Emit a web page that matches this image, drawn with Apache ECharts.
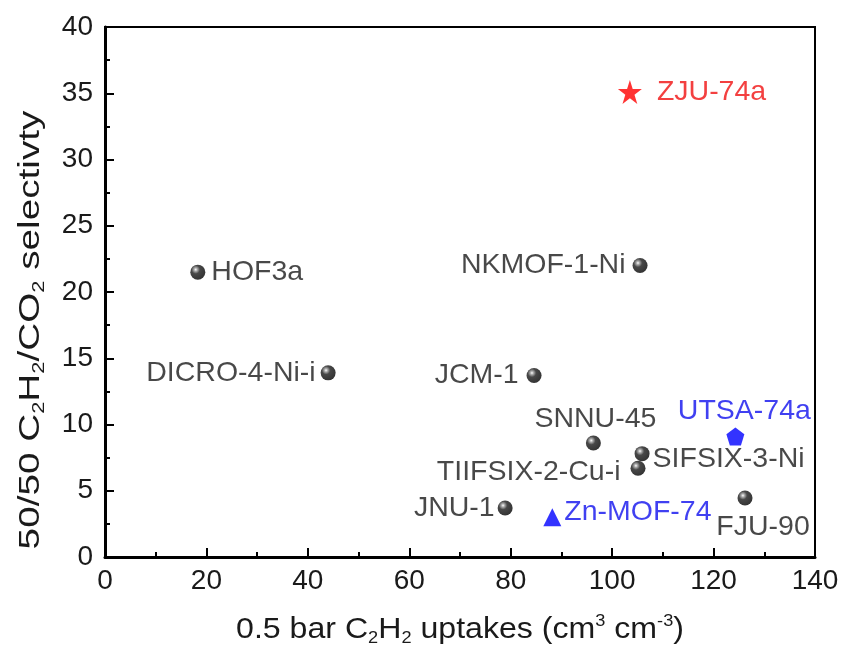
<!DOCTYPE html>
<html><head><meta charset="utf-8">
<script src="https://cdn.jsdelivr.net/npm/echarts@6/dist/echarts.min.js"></script>
<style>html,body{margin:0;padding:0;background:#fff}#c{width:842px;height:655px}</style>
</head><body><div id="c"></div>
<script>
// ---- data ----
const ballNames = ['HOF3a','DICRO-4-Ni-i','NKMOF-1-Ni','JCM-1','SNNU-45','SIFSIX-3-Ni','TIIFSIX-2-Cu-i','JNU-1','FJU-90'];
const ballX     = [18.3, 44.0, 105.5, 84.6, 96.3, 105.9, 105.1, 78.9, 126.2];
const ballY     = [21.5, 13.9, 22.0, 13.7, 8.6, 7.8, 6.7, 3.7, 4.45];
const starNames = ['ZJU-74a'];  const starX = [103.5]; const starY = [35.1];
const pentNames = ['UTSA-74a']; const pentX = [124.3]; const pentY = [9.1];
const triNames  = ['Zn-MOF-74'];const triX  = [88.2];  const triY  = [3.0];
const xTicks = [0,20,40,60,80,100,120,140];
const yTicks = [0,5,10,15,20,25,30,35,40];
const xTitle = '{n|0.5 bar C}{sb|2}{n|H}{sb|2}{n| uptakes (cm}{sp|3}{n| cm}{sp|-3}{n|)}';
const yTitle = '{n|50/50 C}{sb|2}{n|H}{sb|2}{n|/CO}{sb|2}{n| selectivty}';

// ---- label placement (style) ----
const labelPos = {
  'HOF3a':{position:'right',distance:6},
  'DICRO-4-Ni-i':{position:'left',distance:5},
  'NKMOF-1-Ni':{position:'left',distance:7},
  'JCM-1':{position:'left',distance:8},
  'SNNU-45':{position:'top',distance:2,offset:[2,0]},
  'SIFSIX-3-Ni':{position:'right',distance:3,offset:[0,5]},
  'TIIFSIX-2-Cu-i':{position:'left',distance:10,offset:[0,4]},
  'JNU-1':{position:'left',distance:3},
  'FJU-90':{position:'bottom',distance:7,offset:[18,0]},
  'ZJU-74a':{position:'right',distance:15},
  'UTSA-74a':{position:'top',distance:2,offset:[9,0]},
  'Zn-MOF-74':{position:'right',distance:3,offset:[0,-5]}
};
const FONT = '"Liberation Sans", Arial, sans-serif';
const TXT = '#1a1a1a';
function mk(names, xs, ys, color){
  return names.map((n,i)=>({name:n, value:[xs[i], ys[i]],
    label:Object.assign({show:true, formatter:n, color:color, fontSize:28.5, fontFamily:FONT}, labelPos[n])}));
}
const sphere = {type:'radial', x:0.36, y:0.33, r:0.7,
  colorStops:[{offset:0,color:'#ffffff'},{offset:0.15,color:'#9a9a9a'},{offset:0.4,color:'#1a1a1a'},{offset:1,color:'#000'}]};
const starPath = 'path://M50 0 L61.2 34.5 L97.6 34.5 L68.2 55.9 L79.4 90.5 L50 69.1 L20.6 90.5 L31.8 55.9 L2.4 34.5 L38.8 34.5 Z';
const pentPath = 'path://M50 0 L97.6 34.5 L79.4 90.5 L20.6 90.5 L2.4 34.5 Z';

const rich = {
  n:{fontSize:30, fontFamily:FONT, fill:TXT, color:TXT, lineHeight:34, verticalAlign:'middle'},
  sb:{fontSize:17, fontFamily:FONT, fill:TXT, color:TXT, lineHeight:16, verticalAlign:'bottom'},
  sp:{fontSize:17, fontFamily:FONT, fill:TXT, color:TXT, lineHeight:16, verticalAlign:'top'}
};
const chart = echarts.init(document.getElementById('c'), null, {renderer:'canvas'});
chart.setOption({
  animation:false,
  backgroundColor:'#fff',
  grid:{left:105, right:27, top:27, bottom:98, show:true, borderColor:'#000', borderWidth:2, backgroundColor:'transparent'},
  xAxis:{type:'value', min:xTicks[0], max:xTicks[xTicks.length-1], interval:20,
    axisLine:{show:true, onZero:false, lineStyle:{color:'#000', width:3}},
    axisTick:{show:true, inside:true, length:9, lineStyle:{color:'#000', width:2}},
    minorTick:{show:true, splitNumber:2, length:5, lineStyle:{color:'#000', width:2}},
    splitLine:{show:false},
    axisLabel:{color:TXT, fontSize:28, fontFamily:FONT, margin:10}
  },
  yAxis:{type:'value', min:yTicks[0], max:yTicks[yTicks.length-1], interval:5,
    axisLine:{show:true, onZero:false, lineStyle:{color:'#000', width:3}},
    axisTick:{show:true, inside:true, length:9, lineStyle:{color:'#000', width:2}},
    minorTick:{show:true, splitNumber:2, length:5, lineStyle:{color:'#000', width:2}},
    splitLine:{show:false},
    axisLabel:{color:TXT, fontSize:28, fontFamily:FONT, margin:12}
  },
  graphic:[
    {type:'text', x:460, y:630, scaleX:1.07,
     style:{text:xTitle, rich:rich, align:'center', verticalAlign:'middle', fill:TXT}},
    {type:'text', x:31, y:330, rotation:Math.PI/2, scaleX:1.29,
     style:{text:yTitle, rich:rich, align:'center', verticalAlign:'middle', fill:TXT}}
  ],
  series:[
    {type:'scatter', symbol:'circle', symbolSize:15, itemStyle:{color:sphere},
     data:mk(ballNames, ballX, ballY, TXT)},
    {type:'scatter', symbol:starPath, symbolSize:24, itemStyle:{color:'#ff0000'},
     data:mk(starNames, starX, starY, '#f01010')},
    {type:'scatter', symbol:pentPath, symbolSize:18, itemStyle:{color:'#0000ff'},
     data:mk(pentNames, pentX, pentY, '#1010ee')},
    {type:'scatter', symbol:'triangle', symbolSize:18, itemStyle:{color:'#0000ff'},
     data:mk(triNames, triX, triY, '#1010ee')}
  ]
});
</script></body></html>
